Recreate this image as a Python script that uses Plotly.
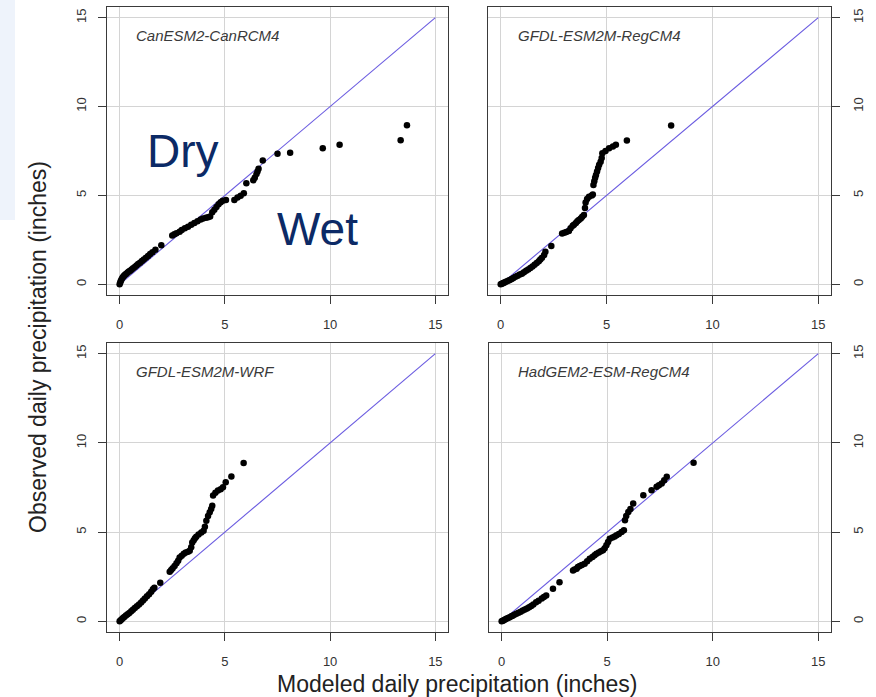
import plotly.graph_objects as go

# ---- data ----
panel_names = ["CanESM2-CanRCM4", "GFDL-ESM2M-RegCM4", "GFDL-ESM2M-WRF", "HadGEM2-ESM-RegCM4"]
axis_ticks = [0, 5, 10, 15]
ref_line = [0, 15]

x1 = [0.0, 0.03, 0.06, 0.1, 0.14, 0.18, 0.22, 0.27, 0.32, 0.38, 0.44, 0.5, 0.57, 0.64, 0.72, 0.8, 0.88, 0.97,
      1.06, 1.15, 1.25, 1.35, 1.45, 1.56, 1.7, 1.98, 2.5, 2.6, 2.7, 2.85, 2.95, 3.1, 3.25, 3.4, 3.55, 3.7, 3.85,
      3.96, 4.1, 4.2, 4.3, 4.4, 4.5, 4.6, 4.7, 4.8, 4.9, 5.05, 5.45, 5.6, 5.75, 5.9, 6.02, 6.35, 6.42, 6.5, 6.55,
      6.6, 6.8, 7.5, 8.1, 9.65, 10.45, 13.35, 13.65]
y1 = [0.0, 0.1, 0.2, 0.3, 0.38, 0.44, 0.5, 0.55, 0.6, 0.66, 0.72, 0.77, 0.84, 0.9, 0.98, 1.06, 1.14, 1.22,
      1.31, 1.4, 1.5, 1.6, 1.7, 1.81, 1.95, 2.2, 2.75, 2.82, 2.88, 2.96, 3.05, 3.15, 3.24, 3.35, 3.45, 3.55, 3.65,
      3.71, 3.75, 3.78, 3.82, 4.05, 4.2, 4.35, 4.5, 4.62, 4.7, 4.75, 4.75, 4.88, 4.98, 5.12, 5.68, 5.85, 6.0, 6.2,
      6.35, 6.5, 6.97, 7.35, 7.4, 7.66, 7.85, 8.1, 8.95]

x2 = [0.0, 0.05, 0.1, 0.15, 0.2, 0.27, 0.35, 0.43, 0.52, 0.6, 0.7, 0.8, 0.9, 1.0, 1.1, 1.2, 1.3, 1.4, 1.5, 1.6,
      1.7, 1.8, 1.87, 1.95, 2.05, 2.11, 2.39, 2.9, 3.0, 3.1, 3.22, 3.3, 3.4, 3.46, 3.55, 3.62, 3.69, 3.78, 3.85,
      3.93, 3.98, 4.01, 4.08, 4.17, 4.3, 4.35, 4.38, 4.42, 4.46, 4.5, 4.55, 4.6, 4.65, 4.72, 4.77, 4.8, 4.95,
      5.12, 5.3, 5.44, 5.96, 8.05]
y2 = [0.0, 0.03, 0.06, 0.09, 0.12, 0.16, 0.2, 0.25, 0.3, 0.36, 0.42, 0.48, 0.55, 0.6, 0.68, 0.76, 0.84, 0.92,
      1.0, 1.1, 1.2, 1.3, 1.4, 1.5, 1.65, 1.83, 2.16, 2.86, 2.9, 2.95, 3.0, 3.15, 3.3, 3.35, 3.45, 3.55, 3.62,
      3.7, 3.8, 3.9, 4.3, 4.6, 4.8, 4.93, 5.0, 5.06, 5.59, 5.8, 6.0, 6.15, 6.35, 6.55, 6.72, 6.9, 7.1, 7.38,
      7.5, 7.66, 7.75, 7.85, 8.09, 8.94]

x3 = [0.0, 0.05, 0.1, 0.16, 0.22, 0.3, 0.38, 0.46, 0.55, 0.63, 0.72, 0.82, 0.92, 1.02, 1.11, 1.2, 1.3, 1.4,
      1.5, 1.58, 1.65, 1.93, 2.38, 2.45, 2.52, 2.61, 2.7, 2.78, 2.85, 2.95, 3.05, 3.14, 3.25, 3.33, 3.4, 3.45,
      3.52, 3.58, 3.64, 3.75, 3.88, 3.99, 4.05, 4.12, 4.2, 4.28, 4.35, 4.4, 4.44, 4.55, 4.67, 4.8, 4.91, 5.04,
      5.31, 5.89]
y3 = [0.0, 0.06, 0.11, 0.18, 0.24, 0.32, 0.4, 0.47, 0.56, 0.65, 0.74, 0.84, 0.94, 1.05, 1.16, 1.28, 1.4, 1.52,
      1.65, 1.79, 1.88, 2.16, 2.78, 2.88, 2.98, 3.1, 3.25, 3.4, 3.57, 3.68, 3.78, 3.85, 3.9, 3.95, 4.15, 4.42,
      4.55, 4.65, 4.74, 4.86, 4.98, 5.08, 5.3, 5.64, 5.9, 6.11, 6.3, 6.48, 7.05, 7.2, 7.33, 7.4, 7.52, 7.8,
      8.12, 8.87]

x4 = [0.0, 0.05, 0.1, 0.16, 0.22, 0.3, 0.38, 0.46, 0.52, 0.6, 0.7, 0.8, 0.9, 1.0, 1.1, 1.2, 1.3, 1.4, 1.5,
      1.63, 1.75, 1.9, 2.0, 2.11, 2.43, 2.74, 3.38, 3.45, 3.55, 3.61, 3.7, 3.8, 3.93, 4.05, 4.17, 4.3, 4.4,
      4.49, 4.6, 4.7, 4.8, 4.88, 4.96, 5.04, 5.12, 5.25, 5.35, 5.44, 5.55, 5.68, 5.79, 5.84, 5.9, 6.0, 6.1,
      6.23, 6.71, 7.1, 7.34, 7.45, 7.58, 7.7, 7.82, 9.09]
y4 = [0.0, 0.03, 0.06, 0.1, 0.14, 0.18, 0.23, 0.28, 0.31, 0.36, 0.42, 0.48, 0.54, 0.6, 0.66, 0.72, 0.79, 0.86,
      0.94, 1.07, 1.15, 1.28, 1.36, 1.44, 1.82, 2.19, 2.85, 2.9, 2.95, 3.04, 3.1, 3.16, 3.23, 3.36, 3.51, 3.6,
      3.7, 3.79, 3.86, 3.92, 3.98, 4.1, 4.26, 4.45, 4.63, 4.7, 4.76, 4.82, 4.9, 5.01, 5.1, 5.66, 5.9, 6.13,
      6.3, 6.6, 7.07, 7.35, 7.54, 7.62, 7.73, 7.9, 8.1, 8.89]

series = [(x1, y1), (x2, y2), (x3, y3), (x4, y4)]

# ---- layout ----
W, H = 876, 697
FONT = "Liberation Sans, Arial, sans-serif"
# panel boxes in pixels: (left, right, top, bottom)
boxes = [(107, 448, 7, 295), (488, 831, 7, 295), (107, 448, 343, 632), (489, 831, 343, 632)]
yside = ["left", "right", "left", "right"]

fig = go.Figure()
layout = dict(
    width=W, height=H, margin=dict(l=0, r=0, t=0, b=0),
    paper_bgcolor="white", plot_bgcolor="white", showlegend=False,
    font=dict(family=FONT, color="#333333"),
)

for i, ((xs, ys), (l, r, t, b)) in enumerate(zip(series, boxes)):
    n = i + 1
    xa = "x" if n == 1 else f"x{n}"
    ya = "y" if n == 1 else f"y{n}"
    axcommon = dict(
        range=[-0.6, 15.6], tickvals=axis_ticks, showgrid=True, gridcolor="#d4d4d4", gridwidth=1,
        zeroline=False, showline=True, mirror=True, linecolor="#3a3a3a", linewidth=1,
        ticks="outside", ticklen=8, tickcolor="#3a3a3a", tickfont=dict(size=13, color="#333333", family=FONT),
        fixedrange=True,
    )
    layout["xaxis" if n == 1 else f"xaxis{n}"] = dict(
        axcommon, domain=[l / W, r / W], anchor=ya, ticklabelstandoff=9)
    layout["yaxis" if n == 1 else f"yaxis{n}"] = dict(
        axcommon, domain=[1 - b / H, 1 - t / H], anchor=xa, side=yside[i], tickangle=-90,
        ticklabelstandoff=7)
    fig.add_trace(go.Scatter(x=ref_line, y=ref_line, mode="lines", xaxis=xa, yaxis=ya,
                             line=dict(color="#6a5be0", width=1.1), hoverinfo="skip"))
    fig.add_trace(go.Scatter(x=xs, y=ys, mode="markers", xaxis=xa, yaxis=ya,
                             marker=dict(color="black", size=6.5, line=dict(width=0))))
    fig.add_annotation(x=0.7, y=14.0, xref=xa, yref=ya, text=f"<i>{panel_names[i]}</i>",
                       showarrow=False, xanchor="left", yanchor="middle",
                       font=dict(size=15, color="#3a3a3a", family=FONT))

fig.update_layout(**layout)

# axis titles
fig.add_annotation(x=457 / W, y=1 - 684 / H, xref="paper", yref="paper",
                   text="Modeled daily precipitation (inches)", showarrow=False,
                   xanchor="center", yanchor="middle", font=dict(size=23, color="#222222", family=FONT))
fig.add_annotation(x=38 / W, y=1 - 347 / H, xref="paper", yref="paper", textangle=-90,
                   text="Observed daily precipitation (inches)", showarrow=False,
                   xanchor="center", yanchor="middle", font=dict(size=23, color="#222222", family=FONT))

# Dry / Wet labels
fig.add_annotation(x=183 / W, y=1 - 151 / H, xref="paper", yref="paper", text="Dry", showarrow=False,
                   xanchor="center", yanchor="middle", font=dict(size=46, color="#0c2a66", family=FONT))
fig.add_annotation(x=317 / W, y=1 - 229 / H, xref="paper", yref="paper", text="Wet", showarrow=False,
                   xanchor="center", yanchor="middle", font=dict(size=46, color="#0c2a66", family=FONT))

# pale strip at top-left edge
fig.add_shape(type="rect", xref="paper", yref="paper", x0=0, x1=15 / W, y0=1 - 220 / H, y1=1,
              fillcolor="#eef3fb", line=dict(width=0), layer="below")

fig.write_html("out.html", config={"displayModeBar": False},
               post_script="document.body.style.margin='0';document.body.style.overflow='hidden';")
